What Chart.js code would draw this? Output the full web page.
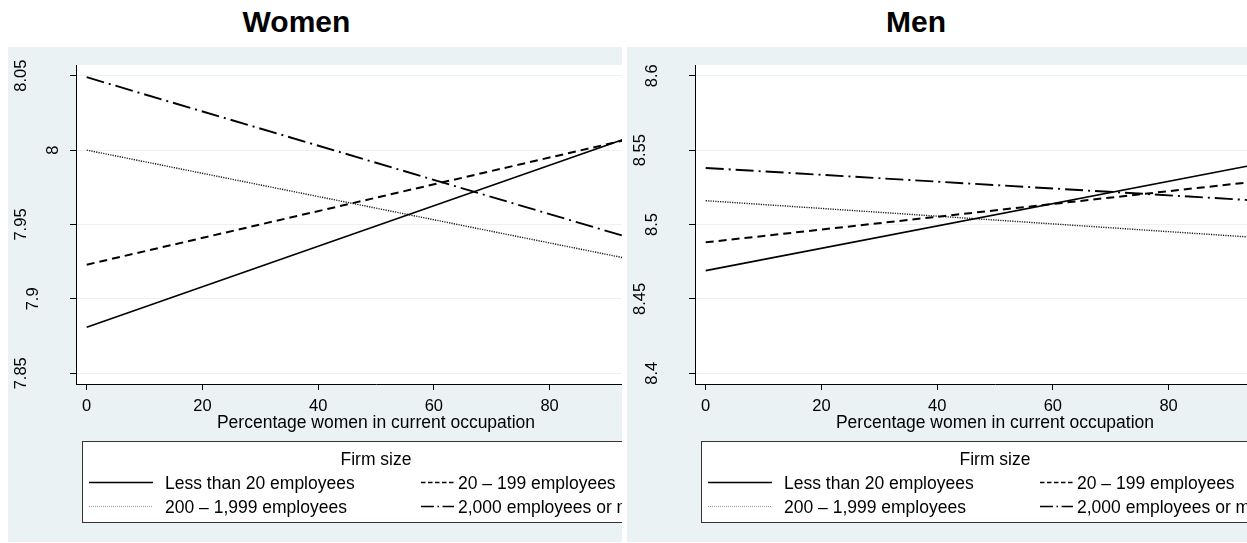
<!DOCTYPE html>
<html>
<head>
<meta charset="utf-8">
<title>Predicted log wages by firm size</title>
<script src="https://cdn.jsdelivr.net/npm/chart.js@4.4.1/dist/chart.umd.min.js"></script>
<style>
  html, body { margin: 0; padding: 0; background: #ffffff; }
  body { width: 1247px; height: 543px; position: relative; overflow: hidden;
         font-family: "Liberation Sans", Arial, sans-serif; }
  .panel-title { position: absolute; top: 7px; height: 30px; line-height: 30px; font-size: 30px;
                 font-weight: bold; color: #000; text-align: center; white-space: nowrap; }
  .panel { position: absolute; top: 47px; height: 495px; background: #eaf2f3; overflow: hidden; }
  .panel canvas { position: absolute; left: 0; top: 0; }
</style>
</head>
<body>
<div class="panel-title" style="left:0;width:593px">Women</div>
<div class="panel-title" style="left:627px;width:578px">Men</div>
<div class="panel" style="left:8px;width:614px"><canvas id="women" width="900" height="495"></canvas></div>
<div class="panel" style="left:627px;width:620px"><canvas id="men" width="900" height="495"></canvas></div>

<script>
// Percentage women in the occupation at which predictions are evaluated
const pctWomen = [0, 100];
const xTicks = [0, 20, 40, 60, 80, 100];
const xTitle = 'Percentage women in current occupation';

// Firm size categories (legend order)
const firmSizes = ['Less than 20 employees', '20 \u2013 199 employees',
                   '200 \u2013 1,999 employees', '2,000 employees or more'];

// Women: predicted values at 0% and 100% women
const womenLt20      = [7.881, 8.017];
const women20to199   = [7.923, 8.013];
const women200to1999 = [8.000, 7.922];
const women2000plus  = [8.049, 7.934];
const womenYTicks    = [7.85, 7.9, 7.95, 8, 8.05];

// Men: predicted values at 0% and 100% women
const menLt20      = [8.469, 8.544];
const men20to199   = [8.488, 8.531];
const men200to1999 = [8.516, 8.490];
const men2000plus  = [8.538, 8.515];
const menYTicks    = [8.4, 8.45, 8.5, 8.55, 8.6];

const FONT = "'Liberation Sans', Arial, sans-serif";
Chart.defaults.font.family = FONT;
Chart.defaults.color = '#000';

// Line patterns for each firm size (plot line and legend key)
const lineStyles = [
  { width: 1.6, dash: [],            color: '#000', keyDash: [],                  keyWidth: 1.6, keyColor: '#000' },
  { width: 2.0, dash: [8, 5],        color: '#000', keyDash: [4.5, 2.5],          keyWidth: 1.6, keyColor: '#000' },
  { width: 1.4, dash: [1.2, 1.2],    color: '#1a1a1a', keyDash: [1, 1],           keyWidth: 1.0, keyColor: '#999' },
  { width: 1.9, dash: [18, 5, 2, 5], color: '#000', keyDash: [13, 3.5, 1.5, 3.5], keyWidth: 1.6, keyColor: '#000' }
];

// White plot region on the tinted panel
const plotBg = {
  id: 'plotBg',
  beforeDraw(chart) {
    const { ctx, chartArea: a } = chart;
    ctx.save();
    ctx.fillStyle = '#ffffff';
    ctx.fillRect(a.left, a.top, a.right - a.left, a.bottom - a.top);
    ctx.restore();
  }
};

// Vertical y-axis labels, placed at the scale's tick positions
const yTickLabels = {
  id: 'yTickLabels',
  afterDraw(chart) {
    const scale = chart.scales.y, ctx = chart.ctx;
    ctx.save();
    ctx.font = '16.5px ' + FONT;
    ctx.fillStyle = '#000';
    ctx.textAlign = 'center';
    ctx.textBaseline = 'middle';
    scale.ticks.forEach(t => {
      const label = String(t.value);
      const w = ctx.measureText(label).width;
      const y = scale.getPixelForValue(t.value);
      ctx.save();
      ctx.translate(58 - 1.4 * w, y);
      ctx.rotate(-Math.PI / 2);
      ctx.fillText(label, 0, 0);
      ctx.restore();
    });
    ctx.restore();
  }
};

// Boxed two-column legend with a "Firm size" heading
const firmLegend = {
  id: 'firmLegend',
  afterDraw(chart, args, o) {
    const ctx = chart.ctx;
    ctx.save();
    ctx.fillStyle = '#ffffff';
    ctx.fillRect(o.left, o.top, o.width, o.height);
    ctx.strokeStyle = '#333';
    ctx.lineWidth = 1;
    ctx.strokeRect(o.left + 0.5, o.top + 0.5, o.width, o.height);
    ctx.font = '17.5px ' + FONT;
    ctx.fillStyle = '#000';
    ctx.textBaseline = 'alphabetic';
    ctx.textAlign = 'center';
    ctx.fillText('Firm size', o.titleX, o.titleBaseline);
    ctx.textAlign = 'left';
    chart.data.datasets.forEach((ds, i) => {
      const col = o.columns[i % 2];
      const base = o.rows[Math.floor(i / 2)];
      const st = lineStyles[i];
      ctx.beginPath();
      ctx.setLineDash(st.keyDash);
      ctx.lineWidth = st.keyWidth;
      ctx.strokeStyle = st.keyColor;
      ctx.moveTo(col.keyStart, base - 6.5);
      ctx.lineTo(col.keyEnd, base - 6.5);
      ctx.stroke();
      ctx.setLineDash([]);
      ctx.fillStyle = '#000';
      ctx.fillText(ds.label, col.text, base);
    });
    ctx.restore();
  }
};

const legendLayout = {
  left: 74, top: 394, width: 820, height: 81, titleX: 368, titleBaseline: 418, rows: [442, 466],
  columns: [ { keyStart: 81, keyEnd: 145, text: 157 }, { keyStart: 413, keyEnd: 446, text: 450 } ]
};

function makePanel(id, series, yTicks, yMin, yMax) {
  return new Chart(document.getElementById(id), {
    type: 'line',
    data: {
      datasets: series.map((vals, i) => ({
        label: firmSizes[i],
        data: pctWomen.map((x, j) => ({ x: x, y: vals[j] })),
        borderColor: lineStyles[i].color,
        borderWidth: lineStyles[i].width,
        borderDash: lineStyles[i].dash,
        borderCapStyle: 'butt',
        pointRadius: 0,
        fill: false,
        tension: 0
      }))
    },
    options: {
      responsive: false,
      animation: false,
      devicePixelRatio: 1,
      events: [],
      layout: { padding: { left: 0, top: 18, right: 232, bottom: 0 } },
      plugins: {
        legend: { display: false },
        tooltip: { enabled: false },
        firmLegend: legendLayout
      },
      scales: {
        x: {
          type: 'linear', min: -1.85, max: 101.85,
          afterBuildTicks: s => { s.ticks = xTicks.map(v => ({ value: v })); },
          afterFit: s => { s.height = 158; s.paddingLeft = 0; s.paddingRight = 0; },
          grid: { drawOnChartArea: false, drawTicks: true, tickLength: 6, tickColor: '#000', tickWidth: 1 },
          border: { display: true, color: '#000', width: 1 },
          ticks: { color: '#000', font: { size: 16.5 }, padding: 7, minRotation: 0, maxRotation: 0,
                   autoSkip: false, callback: v => String(v) },
          title: { display: true, text: xTitle, color: '#000', font: { size: 17.5 },
                   padding: { top: 0, bottom: 108 } }
        },
        y: {
          type: 'linear', min: yMin, max: yMax,
          afterBuildTicks: s => { s.ticks = yTicks.map(v => ({ value: v })); },
          afterFit: s => { s.width = 68; s.paddingTop = 0; s.paddingBottom = 0; },
          grid: { color: '#eaf2f3', lineWidth: 1, drawTicks: true, tickLength: 6, tickColor: '#000', tickWidth: 1 },
          border: { display: true, color: '#000', width: 1 },
          ticks: { display: false }
        }
      }
    },
    plugins: [plotBg, yTickLabels, firmLegend]
  });
}

makePanel('women', [womenLt20, women20to199, women200to1999, women2000plus], womenYTicks, 7.8428, 8.0572);
makePanel('men', [menLt20, men20to199, men200to1999, men2000plus], menYTicks, 8.3928, 8.6072);
</script>
</body>
</html>
